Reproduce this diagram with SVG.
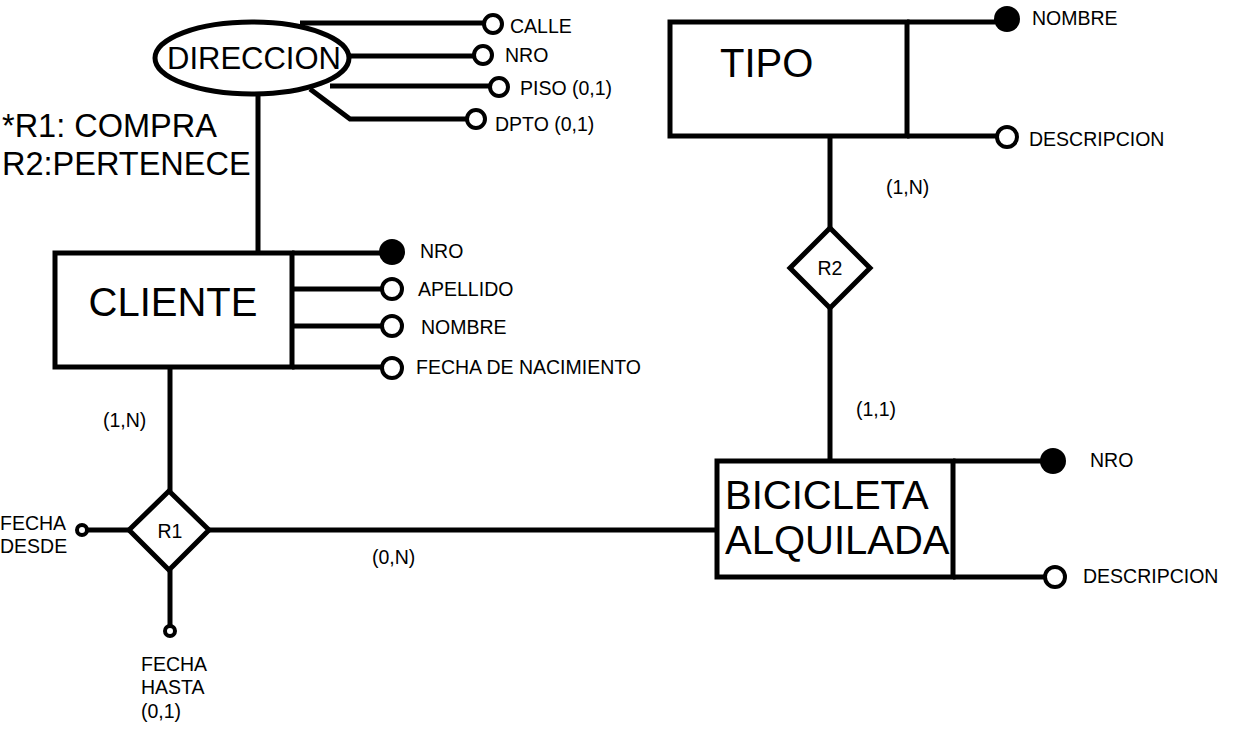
<svg xmlns="http://www.w3.org/2000/svg" width="1240" height="754" viewBox="0 0 1240 754">
<style>
.ln{stroke:#000;stroke-width:5;fill:none}
.sh{stroke:#000;stroke-width:5;fill:#fff}
.oc{stroke:#000;stroke-width:4;fill:#fff}
.fc{fill:#000}
text{font-family:"Liberation Sans",Arial,sans-serif;fill:#000}
.big{font-size:40px}
.dir{font-size:31px}
.mid{font-size:32.5px}
.sm{font-size:19.5px}
</style>
<rect width="1240" height="754" fill="#fff"/>
<g id="connectors">
<polyline class="ln" points="300,23 484,23"/>
<polyline class="ln" points="349,56 474,56"/>
<polyline class="ln" points="330,86 490,86"/>
<polyline class="ln" points="310,89 350,119 467,119"/>
<line class="ln" x1="258" y1="95" x2="258" y2="253"/>
<line class="ln" x1="292" y1="253" x2="382" y2="253"/>
<line class="ln" x1="292" y1="289" x2="382" y2="289"/>
<line class="ln" x1="292" y1="326" x2="382" y2="326"/>
<line class="ln" x1="292" y1="367" x2="382" y2="367"/>
<line class="ln" x1="170" y1="367" x2="170" y2="491"/>
<line class="ln" x1="87" y1="530" x2="129" y2="530"/>
<line class="ln" x1="170" y1="570" x2="170" y2="626"/>
<line class="ln" x1="209" y1="530" x2="717" y2="530"/>
<line class="ln" x1="830" y1="136" x2="830" y2="228"/>
<line class="ln" x1="830" y1="308" x2="830" y2="461"/>
<line class="ln" x1="907" y1="22" x2="995" y2="22"/>
<line class="ln" x1="907" y1="136" x2="997" y2="136"/>
<line class="ln" x1="953" y1="461" x2="1041" y2="461"/>
<line class="ln" x1="953" y1="577" x2="1045" y2="577"/>
</g>
<g id="direccion">
<ellipse class="sh" cx="252" cy="58" rx="97" ry="36"/>
<text class="dir" x="254" y="69" text-anchor="middle">DIRECCION</text>
</g>
<g id="dir-attrs">
<circle class="oc" cx="493" cy="24" r="9"/>
<text class="sm" x="510" y="33">CALLE</text>
<circle class="oc" cx="483" cy="55" r="9"/>
<text class="sm" x="505" y="62">NRO</text>
<circle class="oc" cx="499" cy="87" r="9"/>
<text class="sm" x="520" y="95">PISO (0,1)</text>
<circle class="oc" cx="476" cy="119" r="9"/>
<text class="sm" x="495" y="131">DPTO (0,1)</text>
</g>
<g id="legend">
<text class="mid" x="2" y="137">*R1: COMPRA</text>
<text class="mid" x="2" y="175">R2:PERTENECE</text>
</g>
<g id="cliente">
<rect class="sh" x="55" y="253" width="237" height="114"/>
<text class="big" x="173" y="316" text-anchor="middle">CLIENTE</text>
</g>
<g id="cliente-attrs">
<circle class="fc" cx="392" cy="252" r="13"/>
<text class="sm" x="420" y="258">NRO</text>
<circle class="oc" cx="392" cy="289" r="10"/>
<text class="sm" x="418" y="296">APELLIDO</text>
<circle class="oc" cx="392" cy="326" r="10"/>
<text class="sm" x="421" y="334">NOMBRE</text>
<circle class="oc" cx="392" cy="368" r="10"/>
<text class="sm" x="416" y="374">FECHA DE NACIMIENTO</text>
</g>
<g id="r1">
<polygon class="sh" points="169,491 209,530 169,570 129,530"/>
<text class="sm" x="170" y="538" text-anchor="middle">R1</text>
</g>
<g id="r1-attrs">
<circle class="oc" cx="82" cy="530" r="5"/>
<text class="sm" x="0" y="530">FECHA</text>
<text class="sm" x="0" y="553">DESDE</text>
<circle class="oc" cx="170" cy="631" r="5"/>
<text class="sm" x="141" y="671">FECHA</text>
<text class="sm" x="141" y="694">HASTA</text>
<text class="sm" x="141" y="718">(0,1)</text>
</g>
<g id="cardinalities">
<text class="sm" x="103" y="427">(1,N)</text>
<text class="sm" x="372" y="564">(0,N)</text>
<text class="sm" x="886" y="194">(1,N)</text>
<text class="sm" x="856" y="416">(1,1)</text>
</g>
<g id="tipo">
<rect class="sh" x="670" y="22" width="237" height="114"/>
<text class="big" x="720" y="77">TIPO</text>
</g>
<g id="tipo-attrs">
<circle class="fc" cx="1007" cy="19" r="13"/>
<text class="sm" x="1032" y="25">NOMBRE</text>
<circle class="oc" cx="1007" cy="137" r="10"/>
<text class="sm" x="1029" y="146">DESCRIPCION</text>
</g>
<g id="r2">
<polygon class="sh" points="830,228 870,268 830,308 790,268"/>
<text class="sm" x="830" y="275" text-anchor="middle">R2</text>
</g>
<g id="bicicleta">
<rect class="sh" x="717" y="461" width="236" height="116"/>
<text class="big" x="725" y="509">BICICLETA</text>
<text class="big" x="725" y="554">ALQUILADA</text>
</g>
<g id="bici-attrs">
<circle class="fc" cx="1053" cy="461" r="13"/>
<text class="sm" x="1090" y="467">NRO</text>
<circle class="oc" cx="1055" cy="577" r="10"/>
<text class="sm" x="1083" y="583">DESCRIPCION</text>
</g>
</svg>
